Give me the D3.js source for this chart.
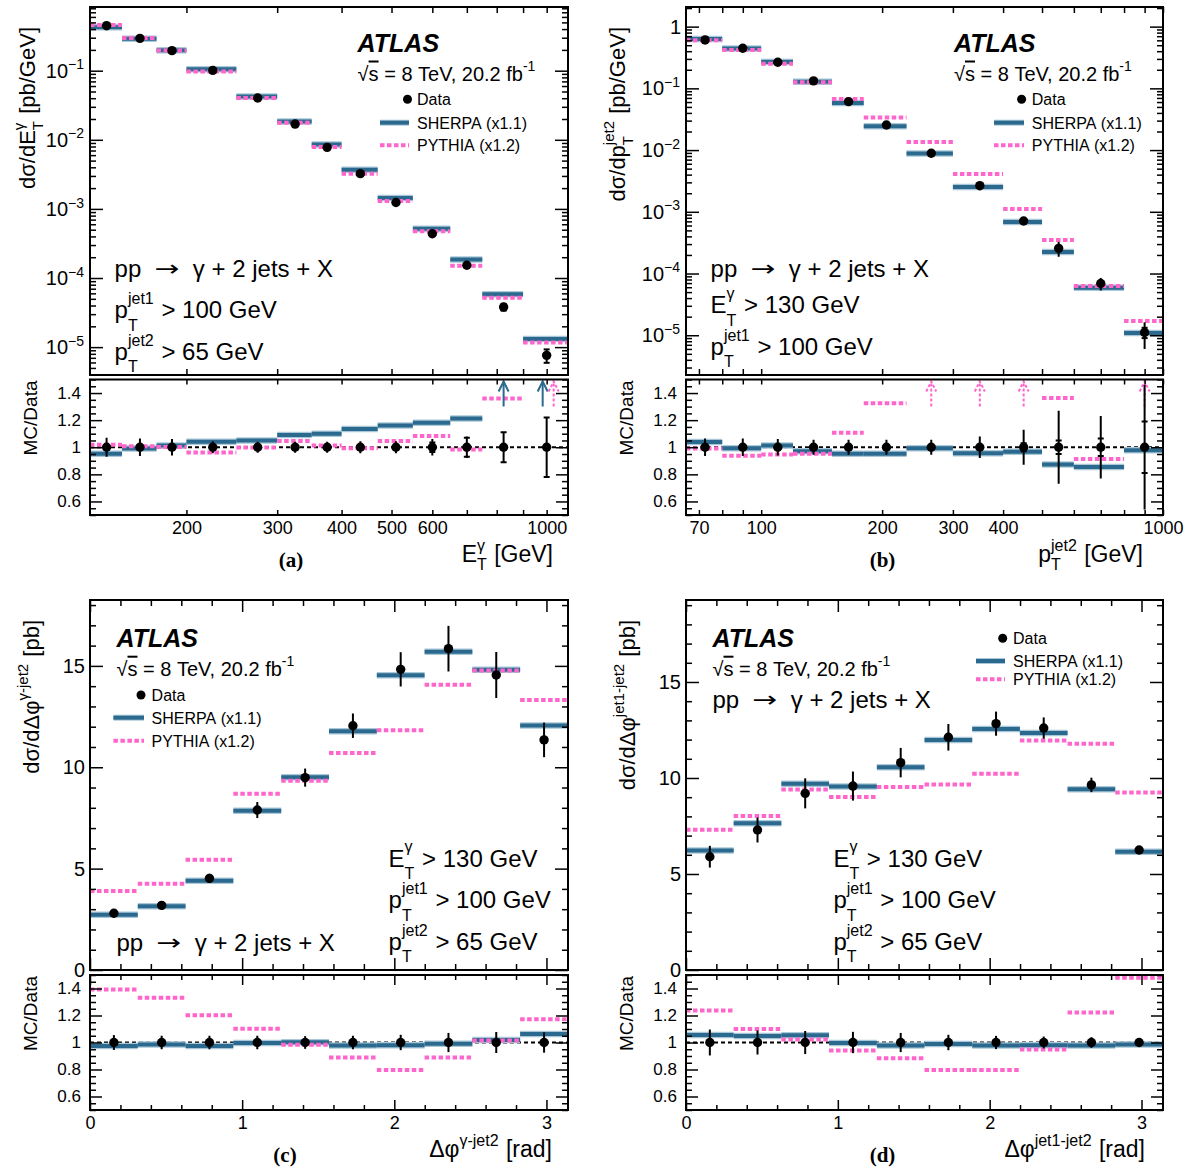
<!DOCTYPE html>
<html><head><meta charset="utf-8">
<script src="https://cdn.jsdelivr.net/npm/d3@7"></script>
<style>body{margin:0;background:#fff}svg{display:block}</style>
</head><body>
<svg id="c" width="1186" height="1173"></svg>
<script>
// ---------------- DATA ----------------
// (a) E_T^gamma
const aEdges = [130,150,175,200,250,300,350,400,470,550,650,750,900,1100];
const aData = [0.448,0.294,0.195,0.101,0.0403,0.0169,0.00778,0.00324,0.00124,4.37e-4,1.53e-4,3.8e-5,7.6e-6];
const aSherpaRatio = [0.952,0.99,1.012,1.04,1.05,1.09,1.10,1.135,1.16,1.18,1.213,1.53,1.72];
const aPythiaRatio = [1.019,1.007,1.002,0.962,0.998,1.046,1.012,0.993,1.046,1.083,0.983,1.36,1.54];
const aTotErr = [0.07,0.065,0.06,0.045,0.04,0.04,0.04,0.045,0.045,0.06,0.08,0.11,0.22];
const aStatErr = [0,0,0,0,0,0,0,0,0,0.035,0.07,0.11,0.22];
const aXTicks = [200,300,400,500,600,700,800,900,1000];
const aXLabels = [200,300,400,500,600,1000];
const aYLabels = [1e-5,1e-4,1e-3,1e-2,1e-1];

// (b) pT^jet2
const bEdges = [65,80,100,120,150,180,230,300,400,500,600,800,1000];
const bData = [0.609,0.447,0.265,0.132,0.061,0.0255,0.00887,0.00265,7.1e-4,2.56e-4,6.9e-5,1.11e-5];
const bSherpaRatio = [1.039,0.993,1.012,0.971,0.952,0.952,0.993,0.956,0.966,0.872,0.855,0.978];
const bPythiaRatio = [0.99,0.937,0.947,0.952,1.107,1.325,1.52,1.55,1.56,1.364,0.913,1.53];
const bTotErr = [0.065,0.065,0.06,0.055,0.055,0.055,0.055,0.08,0.13,0.27,0.23,0.46];
const bStatErr = [0,0,0,0,0,0,0,0,0.03,0.05,0.065,0.19];
const bXTicks = [70,80,90,100,200,300,400,500,600,700,800,900,1000];
const bXLabels = [70,100,200,300,400,1000];
const bYLabels = [1e-5,1e-4,1e-3,1e-2,1e-1,1];

// (c) dphi(gamma-jet2)
const cEdges = [0,0.314,0.628,0.942,1.257,1.571,1.885,2.199,2.513,2.827,3.1416];
const cData = [2.80,3.19,4.52,7.89,9.49,12.05,14.83,15.85,14.55,11.35];
const cSherpaRatio = [0.975,0.985,0.975,0.996,1.002,0.977,0.98,0.99,1.018,1.063];
const cPythiaRatio = [1.393,1.332,1.202,1.102,0.983,0.888,0.797,0.888,1.015,1.173];
const cTotErr = [0.055,0.05,0.05,0.05,0.047,0.05,0.057,0.071,0.078,0.075];

// (d) dphi(jet1-jet2)
const dEdges = [0,0.314,0.628,0.942,1.257,1.571,1.885,2.199,2.513,2.827,3.1416];
const dData = [5.90,7.29,9.20,9.58,10.80,12.12,12.83,12.60,9.64,6.25];
const dSherpaRatio = [1.055,1.049,1.054,0.997,0.978,0.988,0.978,0.98,0.977,0.985];
const dPythiaRatio = [1.237,1.1,1.022,0.941,0.883,0.797,0.797,0.949,1.222,1.48];
const dTotErr = [0.096,0.089,0.085,0.079,0.071,0.057,0.049,0.044,0.039,0.018];

const phiMajor = [0,1,2,3];
const ratioMajor = [0.6,0.8,1.0,1.2,1.4];
const ratioLabels = ['0.6','0.8','1','1.2','1.4'];

// ---------------- STYLE ----------------
const FONT = '"Liberation Sans", Arial, Helvetica, sans-serif';
const SERIF = '"Liberation Serif", "Times New Roman", serif';
const BLUE = '#2b6a8e', HALO = '#a9c7d8', PINK = '#ff66cc';

const svg = d3.select('#c');
const defs = svg.append('defs');

function rich(parent, parts, o) {
  const g = parent.append('g').style('font-family', o.family || FONT).style('fill', '#000');
  if (o.weight) g.style('font-weight', o.weight);
  if (o.italic) g.style('font-style', 'italic');
  const size = o.size;
  let x = 0;
  parts.forEach(p => {
    if (typeof p === 'string') p = {t: p};
    if (p.t !== undefined) {
      const t = g.append('text').style('font-size', (p.size || size) + 'px')
        .text(p.t.replace(/ /g, '\u00A0'));
      if (p.family) t.style('font-family', p.family);
      if (p.over) t.style('text-decoration', 'overline');
      const sx = p.sx || 1;
      if (sx !== 1) t.attr('x', 0).attr('y', 0).attr('transform', `translate(${x},${p.dy || 0}) scale(${sx},1)`);
      else t.attr('x', x).attr('y', p.dy || 0);
      x += t.node().getComputedTextLength() * sx;
    } else {
      const ss = p.size || Math.round(size * 0.68);
      let w = 0;
      if (p.sup !== undefined) {
        const t = g.append('text').attr('x', x).attr('y', -size * (p.up != null ? p.up : (o.up || 0.55)))
          .style('font-size', ss + 'px').text(p.sup);
        w = Math.max(w, t.node().getComputedTextLength());
      }
      if (p.sub !== undefined) {
        const t = g.append('text').attr('x', x).attr('y', size * (p.down != null ? p.down : (o.down || 0.4)))
          .style('font-size', ss + 'px').text(p.sub);
        w = Math.max(w, t.node().getComputedTextLength());
      }
      x += w + 1;
    }
  });
  const dx = o.anchor === 'end' ? -x : o.anchor === 'middle' ? -x / 2 : 0;
  g.attr('transform', `translate(${o.x},${o.y}) rotate(${o.rot || 0}) translate(${dx},0)`);
  return g;
}

function tk(g, fn, scale, vals, len, tx, ty) {
  const s = g.append('g').attr('transform', `translate(${tx},${ty})`)
    .call(fn(scale).tickValues(vals).tickSize(-len).tickFormat(''));
  s.select('.domain').remove();
  s.selectAll('text').remove();
  s.selectAll('line').attr('stroke', '#000').attr('stroke-width', 1.5);
}

function hline(g, bins, x, yv, color, width, dash) {
  g.selectAll(null).data(bins).join('line')
    .attr('x1', b => x(b.lo)).attr('x2', b => x(b.hi))
    .attr('y1', yv).attr('y2', yv)
    .attr('stroke', color).attr('stroke-width', width)
    .attr('stroke-dasharray', dash || null);
}

function arrow(g, xp, yBot, yTop, color, dash) {
  const a = g.append('g').attr('stroke', color).attr('stroke-width', 2).attr('fill', 'none')
    .attr('stroke-dasharray', dash || null);
  a.append('line').attr('x1', xp).attr('x2', xp).attr('y1', yBot).attr('y2', yTop);
  a.append('path').attr('d', `M${xp - 5},${yTop + 10}L${xp},${yTop}L${xp + 5},${yTop + 10}`);
}

function drawPanel(P) {
  const G = svg.append('g');
  const x = (P.xLog ? d3.scaleLog() : d3.scaleLinear()).domain(P.xDomain).range([P.x0, P.x1]);
  const y = (P.yLog ? d3.scaleLog() : d3.scaleLinear()).domain(P.yDomain).range([P.my1, P.my0]);
  const r = d3.scaleLinear().domain([0.5, 1.5]).range([P.ry1, P.ry0]);
  const bins = P.data.map((d, i) => ({lo: P.edges[i], hi: P.edges[i + 1], c: (P.edges[i] + P.edges[i + 1]) / 2,
    d, s: P.sherpa[i], p: P.pythia[i], e: P.err[i], st: P.stat ? P.stat[i] : 0}));

  defs.append('clipPath').attr('id', 'm' + P.id).append('rect')
    .attr('x', P.x0).attr('y', P.my0).attr('width', P.x1 - P.x0).attr('height', P.my1 - P.my0);
  defs.append('clipPath').attr('id', 'r' + P.id).append('rect')
    .attr('x', P.x0).attr('y', P.ry0).attr('width', P.x1 - P.x0).attr('height', P.ry1 - P.ry0);

  // ---- main pad ----
  const M = G.append('g').attr('clip-path', `url(#m${P.id})`);
  hline(M, bins, x, b => y(b.d * b.s), HALO, 6.5);
  hline(M, bins, x, b => y(b.d * b.s), BLUE, 4);
  hline(M, bins, x, b => y(b.d * b.p), PINK, 4, '4.5 2.5');
  M.selectAll(null).data(bins).join('line')
    .attr('x1', b => x(b.c)).attr('x2', b => x(b.c))
    .attr('y1', b => y(b.d * (1 - b.e))).attr('y2', b => y(b.d * (1 + b.e)))
    .attr('stroke', '#000').attr('stroke-width', 2);
  bins.filter(b => b.st > 0).forEach(b => {
    [1 - b.st, 1 + b.st].forEach(f => M.append('line').attr('x1', x(b.c) - 3).attr('x2', x(b.c) + 3)
      .attr('y1', y(b.d * f)).attr('y2', y(b.d * f)).attr('stroke', '#000').attr('stroke-width', 2));
  });
  M.selectAll(null).data(bins).join('circle')
    .attr('cx', b => x(b.c)).attr('cy', b => y(b.d)).attr('r', 4.7).attr('fill', '#000');

  // ---- ratio pad ----
  const R = G.append('g').attr('clip-path', `url(#r${P.id})`);
  R.append('line').attr('x1', P.x0).attr('x2', P.x1).attr('y1', r(1)).attr('y2', r(1))
    .attr('stroke', '#000').attr('stroke-width', 2).attr('stroke-dasharray', '4 3');
  const sIn = bins.filter(b => b.s <= 1.5), pIn = bins.filter(b => b.p <= 1.5);
  hline(R, sIn, x, b => r(b.s), HALO, 6.5);
  hline(R, sIn, x, b => r(b.s), BLUE, 4);
  hline(R, pIn, x, b => r(b.p), PINK, 4, '4.5 2.5');
  bins.forEach(b => {
    const both = b.s > 1.5 && b.p > 1.5;
    if (b.s > 1.5) arrow(R, x(b.c) - (both ? 4 : 0), r(1.3), P.ry0 + 2, BLUE);
    if (b.p > 1.5) arrow(R, x(b.c) + (both ? 7 : 0), r(1.3), P.ry0 + 2, PINK, '3 2');
  });
  R.selectAll(null).data(bins).join('line')
    .attr('x1', b => x(b.c)).attr('x2', b => x(b.c))
    .attr('y1', b => r(1 - b.e)).attr('y2', b => r(1 + b.e))
    .attr('stroke', '#000').attr('stroke-width', 2);
  bins.filter(b => b.st > 0).forEach(b => {
    [1 - b.st, 1 + b.st].forEach(f => R.append('line').attr('x1', x(b.c) - 3).attr('x2', x(b.c) + 3)
      .attr('y1', r(f)).attr('y2', r(f)).attr('stroke', '#000').attr('stroke-width', 2));
  });
  R.selectAll(null).data(bins).join('circle')
    .attr('cx', b => x(b.c)).attr('cy', r(1)).attr('r', 4.7).attr('fill', '#000');

  // ---- ticks ----
  const A = G.append('g');
  if (P.xLog) {
    tk(A, d3.axisBottom, x, P.xTicks, 6, 0, P.my1);
    tk(A, d3.axisTop, x, P.xTicks, 6, 0, P.my0);
    tk(A, d3.axisBottom, x, P.xTicks, 5, 0, P.ry1);
    tk(A, d3.axisTop, x, P.xTicks, 5, 0, P.ry0);
  } else {
    const minor = d3.range(0.2, 3.15, 0.2).filter(v => Math.abs(v - Math.round(v)) > 0.01);
    [[d3.axisBottom, P.my1, 12, 6], [d3.axisTop, P.my0, 12, 6], [d3.axisBottom, P.ry1, 10, 5], [d3.axisTop, P.ry0, 10, 5]]
      .forEach(([fn, yy, L, l]) => { tk(A, fn, x, P.xTicks, L, 0, yy); tk(A, fn, x, minor, l, 0, yy); });
  }
  if (P.yLog) {
    const lo = Math.floor(Math.log10(P.yDomain[0])), hi = Math.ceil(Math.log10(P.yDomain[1]));
    const maj = [], min = [];
    for (let e = lo; e <= hi; e++) {
      const v = Math.pow(10, e);
      if (v >= P.yDomain[0] && v <= P.yDomain[1]) maj.push(v);
      for (let k = 2; k <= 9; k++) { const m = k * v; if (m >= P.yDomain[0] && m <= P.yDomain[1]) min.push(m); }
    }
    [[d3.axisLeft, P.x0], [d3.axisRight, P.x1]].forEach(([fn, xx]) => { tk(A, fn, y, maj, 13, xx, 0); tk(A, fn, y, min, 6, xx, 0); });
  } else {
    const minor = d3.range(0, P.yDomain[1], 1).filter(v => v % 5 !== 0);
    [[d3.axisLeft, P.x0], [d3.axisRight, P.x1]].forEach(([fn, xx]) => { tk(A, fn, y, P.yTicks, 13, xx, 0); tk(A, fn, y, minor, 6, xx, 0); });
  }
  const rMinor = d3.range(0.5, 1.5001, 0.05).filter(v => !ratioMajor.some(m => Math.abs(m - v) < 1e-6));
  [[d3.axisLeft, P.x0], [d3.axisRight, P.x1]].forEach(([fn, xx]) => { tk(A, fn, r, ratioMajor, 12, xx, 0); tk(A, fn, r, rMinor, 6, xx, 0); });

  // ---- labels ----
  const xl = A.append('g').attr('transform', `translate(0,${P.ry1})`)
    .call(d3.axisBottom(x).tickValues(P.xLabels).tickSize(0).tickPadding(6).tickFormat(d3.format('d')));
  xl.select('.domain').remove();
  xl.selectAll('text').style('font-family', FONT).style('font-size', '18px').attr('fill', '#000');

  const rl = A.append('g').attr('transform', `translate(${P.x0},0)`)
    .call(d3.axisLeft(r).tickValues(ratioMajor).tickSize(0).tickPadding(9).tickFormat((d, i) => ratioLabels[i]));
  rl.select('.domain').remove();
  rl.selectAll('text').style('font-family', FONT).style('font-size', '17px').attr('fill', '#000');

  if (P.yLog) {
    P.yLabels.forEach(v => {
      const e = Math.round(Math.log10(v));
      const parts = e === 0 ? ['1'] : ['10', {sup: '\u2212' + Math.abs(e), size: 14, up: 0.42}];
      rich(A, parts, {x: P.x0 - 5, y: y(v) + 7, size: 20, anchor: 'end'});
    });
  } else {
    const yl = A.append('g').attr('transform', `translate(${P.x0},0)`)
      .call(d3.axisLeft(y).tickValues(P.yTicks).tickSize(0).tickPadding(5).tickFormat(d3.format('d')));
    yl.select('.domain').remove();
    yl.selectAll('text').style('font-family', FONT).style('font-size', '20px').attr('fill', '#000');
  }

  // frames
  G.append('rect').attr('x', P.x0).attr('y', P.my0).attr('width', P.x1 - P.x0).attr('height', P.my1 - P.my0)
    .attr('fill', 'none').attr('stroke', '#000').attr('stroke-width', 2);
  G.append('rect').attr('x', P.x0).attr('y', P.ry0).attr('width', P.x1 - P.x0).attr('height', P.ry1 - P.ry0)
    .attr('fill', 'none').attr('stroke', '#000').attr('stroke-width', 2);

  // titles
  rich(G, P.yTitle, {x: P.yTitleX, y: P.my0 + 20, rot: -90, anchor: 'end', size: 22, up: 0.5, down: 0.36});
  rich(G, ['MC/Data'], {x: P.x0 - 53, y: P.ry0 + 1, rot: -90, anchor: 'end', size: 19});
  rich(G, P.xTitle, {x: P.xTitleX, y: P.ry1 + 47, anchor: 'end', size: 23, up: 0.5, down: 0.36});
  rich(G, [P.tag], {x: P.tagX, y: P.ry1 + 52, anchor: 'middle', size: 21, family: SERIF, weight: 'bold'});

  // ATLAS + energy
  rich(G, ['ATLAS'], {x: P.atlas[0], y: P.atlas[1], size: 25, weight: 'bold', italic: true});
  rich(G, ['\u221A', {t: 's', over: true}, ' = 8 TeV, 20.2 fb', {sup: '-1', size: 14, up: 0.5}],
    {x: P.atlas[0], y: P.atlas[1] + 29, size: 20});

  // legend
  const L = P.legend;
  G.append('circle').attr('cx', L.mx).attr('cy', L.ys[0]).attr('r', 4.5).attr('fill', '#000');
  G.append('line').attr('x1', L.lx[0]).attr('x2', L.lx[1]).attr('y1', L.ys[1]).attr('y2', L.ys[1]).attr('stroke', HALO).attr('stroke-width', 6);
  G.append('line').attr('x1', L.lx[0]).attr('x2', L.lx[1]).attr('y1', L.ys[1]).attr('y2', L.ys[1]).attr('stroke', BLUE).attr('stroke-width', 4);
  G.append('line').attr('x1', L.lx[0]).attr('x2', L.lx[1]).attr('y1', L.ys[2]).attr('y2', L.ys[2]).attr('stroke', PINK).attr('stroke-width', 4).attr('stroke-dasharray', '4.5 2.5');
  ['Data', 'SHERPA (x1.1)', 'PYTHIA (x1.2)'].forEach((t, i) => rich(G, [t], {x: L.tx, y: L.ys[i] + 6, size: 16}));

  // process / cut texts
  P.texts.forEach(T => rich(G, T.parts, {x: T.x, y: T.y, size: 24, up: 0.6, down: 0.52}));
}

const ppText = ['pp  ', {t: '\u2192', family: '"DejaVu Sans", sans-serif', size: 22, sx: 1.35, dy: -1}, '  \u03B3 + 2 jets + X'];
const cutE = ['E', {sup: '\u03B3', sub: 'T', size: 16}, ' > 130 GeV'];
const cutJ1 = ['p', {sup: 'jet1', sub: 'T', size: 16}, ' > 100 GeV'];
const cutJ2 = ['p', {sup: 'jet2', sub: 'T', size: 16}, ' > 65 GeV'];

const PANELS = [
  {id: 'a', x0: 90, x1: 568, my0: 7, my1: 375, ry0: 379.5, ry1: 515,
   xLog: true, xDomain: [130, 1100], yLog: true, yDomain: [3.95e-6, 0.835],
   edges: aEdges, data: aData, sherpa: aSherpaRatio, pythia: aPythiaRatio, err: aTotErr, stat: aStatErr,
   xTicks: aXTicks, xLabels: aXLabels, yLabels: aYLabels,
   yTitle: ['d\u03C3/dE', {sup: '\u03B3', sub: 'T'}, ' [pb/GeV]'], yTitleX: 35,
   xTitle: ['E', {sup: '\u03B3', sub: 'T'}, ' [GeV]'], xTitleX: 553, tag: '(a)', tagX: 291,
   atlas: [357.6, 51.5], legend: {mx: 407.5, lx: [380, 409], tx: 417, ys: [99.3, 122.7, 145.3]},
   texts: [{x: 114.6, y: 276.7, parts: ppText}, {x: 114.6, y: 318.3, parts: cutJ1}, {x: 114.6, y: 360, parts: cutJ2}]},
  {id: 'b', x0: 686, x1: 1163, my0: 7, my1: 375, ry0: 379.5, ry1: 515,
   xLog: true, xDomain: [65, 1000], yLog: true, yDomain: [2.27e-6, 2.08],
   edges: bEdges, data: bData, sherpa: bSherpaRatio, pythia: bPythiaRatio, err: bTotErr, stat: bStatErr,
   xTicks: bXTicks, xLabels: bXLabels, yLabels: bYLabels,
   yTitle: ['d\u03C3/dp', {sup: 'jet2', sub: 'T'}, ' [pb/GeV]'], yTitleX: 625,
   xTitle: ['p', {sup: 'jet2', sub: 'T'}, ' [GeV]'], xTitleX: 1143, tag: '(b)', tagX: 882.5,
   atlas: [954, 51.5], legend: {mx: 1021.6, lx: [994, 1024], tx: 1031.8, ys: [99.3, 122.7, 145.3]},
   texts: [{x: 710.6, y: 276.7, parts: ppText}, {x: 710.6, y: 313.3, parts: cutE}, {x: 710.6, y: 355, parts: cutJ1}]},
  {id: 'c', x0: 90, x1: 568, my0: 600, my1: 970, ry0: 975, ry1: 1110,
   xLog: false, xDomain: [0, 3.1416], yLog: false, yDomain: [0, 18.25], yTicks: [0, 5, 10, 15],
   edges: cEdges, data: cData, sherpa: cSherpaRatio, pythia: cPythiaRatio, err: cTotErr,
   xTicks: phiMajor, xLabels: phiMajor,
   yTitle: ['d\u03C3/d\u0394\u03C6', {sup: '\u03B3-jet2'}, ' [pb]'], yTitleX: 39,
   xTitle: ['\u0394\u03C6', {sup: '\u03B3-jet2', size: 16}, ' [rad]'], xTitleX: 552, tag: '(c)', tagX: 285,
   atlas: [116.5, 646.7], legend: {mx: 141, lx: [113.4, 144], tx: 151.6, ys: [695, 717.7, 740.7]},
   texts: [{x: 388.6, y: 866.7, parts: cutE}, {x: 388.6, y: 908.3, parts: cutJ1}, {x: 388.6, y: 950, parts: cutJ2},
           {x: 116.5, y: 951, parts: ppText}]},
  {id: 'd', x0: 686, x1: 1163, my0: 600, my1: 970, ry0: 975, ry1: 1110,
   xLog: false, xDomain: [0, 3.1416], yLog: false, yDomain: [0, 19.27], yTicks: [0, 5, 10, 15],
   edges: dEdges, data: dData, sherpa: dSherpaRatio, pythia: dPythiaRatio, err: dTotErr,
   xTicks: phiMajor, xLabels: phiMajor,
   yTitle: ['d\u03C3/d\u0394\u03C6', {sup: 'jet1-jet2'}, ' [pb]'], yTitleX: 635,
   xTitle: ['\u0394\u03C6', {sup: 'jet1-jet2', size: 16}, ' [rad]'], xTitleX: 1145, tag: '(d)', tagX: 882.5,
   atlas: [712.5, 646.7], legend: {mx: 1002.7, lx: [976, 1005], tx: 1013, ys: [638.3, 661, 679.3]},
   texts: [{x: 712.5, y: 708.3, parts: ppText}, {x: 833.4, y: 866.7, parts: cutE}, {x: 833.4, y: 908.3, parts: cutJ1},
           {x: 833.4, y: 950, parts: cutJ2}]}
];

PANELS.forEach(drawPanel);
</script>
</body></html>
